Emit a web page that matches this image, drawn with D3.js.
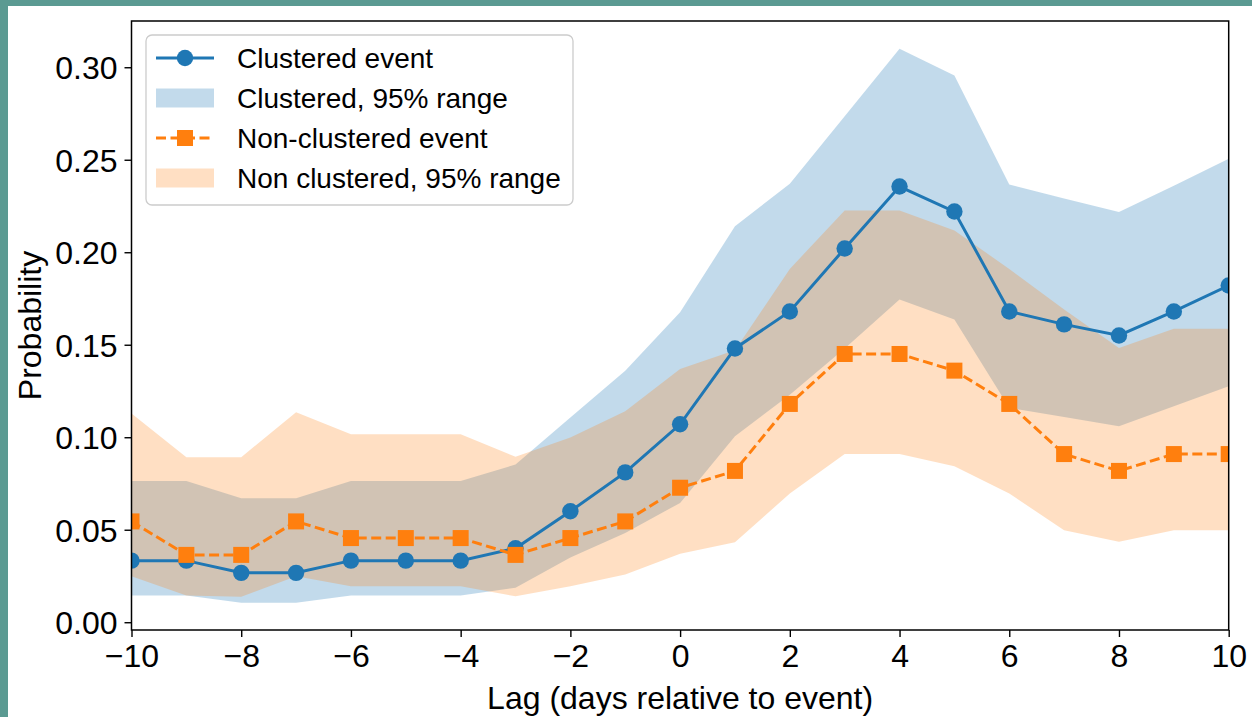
<!doctype html>
<html>
  <head>
    <meta charset="utf-8">
    <title>Lag probability</title>
    <script src="https://d3js.org/d3.v7.min.js"></script>
    <style type="text/css">
      body {
        margin: 0;
        background-color: #5b9a92;
      }
      svg text {
        font-family: "Liberation Sans", Arial, sans-serif;
        fill: #000000;
      }
    </style>
  </head>
  <body>
    <script>
      // data
      var lags = [-10, -9, -8, -7, -6, -5, -4, -3, -2, -1, 0, 1, 2, 3, 4, 5, 6, 7, 8, 9, 10];
      var clustered = [0.0333, 0.0333, 0.0267, 0.0267, 0.0333, 0.0333, 0.0333, 0.040, 0.060, 0.081, 0.107, 0.148, 0.168, 0.202, 0.2355, 0.222, 0.168, 0.161, 0.155, 0.168, 0.182];
      var clusteredLo = [0.0144, 0.0144, 0.0105, 0.0105, 0.0144, 0.0144, 0.0144, 0.0187, 0.035, 0.0483, 0.0645, 0.1005, 0.123, 0.148, 0.1744, 0.1636, 0.1159, 0.111, 0.106, 0.1168, 0.1276];
      var clusteredHi = [0.0764, 0.0764, 0.067, 0.067, 0.0764, 0.0764, 0.0764, 0.0852, 0.1107, 0.136, 0.1676, 0.214, 0.237, 0.2735, 0.310, 0.2955, 0.2366, 0.229, 0.2218, 0.236, 0.2505];
      var nonClustered = [0.0545, 0.0364, 0.0364, 0.0545, 0.0455, 0.0455, 0.0455, 0.0364, 0.0455, 0.0545, 0.0727, 0.0818, 0.118, 0.145, 0.145, 0.136, 0.118, 0.0909, 0.0818, 0.0909, 0.0909];
      var nonLo = [0.0249, 0.0144, 0.0138, 0.0249, 0.0195, 0.0195, 0.0195, 0.014, 0.0195, 0.0258, 0.037, 0.0432, 0.0696, 0.091, 0.091, 0.0843, 0.0696, 0.0497, 0.0435, 0.0497, 0.0497];
      var nonHi = [0.1128, 0.0892, 0.0892, 0.1135, 0.1016, 0.1016, 0.1016, 0.0894, 0.0998, 0.114, 0.1369, 0.147, 0.191, 0.2225, 0.2225, 0.2117, 0.191, 0.169, 0.1483, 0.1586, 0.1586];
      var xTicks = [-10, -8, -6, -4, -2, 0, 2, 4, 6, 8, 10];
      var yTicks = [0.00, 0.05, 0.10, 0.15, 0.20, 0.25, 0.30];
      var legendLabels = ["Clustered event", "Clustered, 95% range", "Non-clustered event", "Non clustered, 95% range"];

      var blue = "#1f77b4", orange = "#ff7f0e";
      var lw = 3, dotR = 8.2, sq = 16, dash = "10,4.5";

      //Width and height
      var w = 1252, h = 717;
      var plotL = 131.5, plotR = 1228.7, plotT = 21, plotB = 630;

      var svg = d3.select("body")
        .append("svg")
        .attr("width", w)
        .attr("height", h)
        .style("display", "block");

      // white page inside the teal border
      svg.append("rect")
        .attr("x", 8).attr("y", 6)
        .attr("width", w - 8).attr("height", h - 6)
        .attr("fill", "#ffffff");

      var x = d3.scaleLinear().domain([-10, 10]).range([plotL, plotR]);
      var y = d3.scaleLinear().domain([-0.0042, 0.3250]).range([plotB, plotT]);

      var rows = lags.map(function(d, i) {
        return {lag: d, c: clustered[i], cLo: clusteredLo[i], cHi: clusteredHi[i],
                n: nonClustered[i], nLo: nonLo[i], nHi: nonHi[i]};
      });

      // bands
      var bandC = d3.area().x(function(d) { return x(d.lag); })
        .y0(function(d) { return y(d.cLo); }).y1(function(d) { return y(d.cHi); });
      var bandN = d3.area().x(function(d) { return x(d.lag); })
        .y0(function(d) { return y(d.nLo); }).y1(function(d) { return y(d.nHi); });

      svg.append("path").datum(rows).attr("d", bandC)
        .attr("fill", blue).attr("fill-opacity", 0.27);
      svg.append("path").datum(rows).attr("d", bandN)
        .attr("fill", orange).attr("fill-opacity", 0.25);

      // clipped lines + markers
      svg.append("clipPath").attr("id", "plotclip")
        .append("rect").attr("x", plotL).attr("y", plotT)
        .attr("width", plotR - plotL).attr("height", plotB - plotT);
      var plot = svg.append("g").attr("clip-path", "url(#plotclip)");

      var lineC = d3.line().x(function(d) { return x(d.lag); }).y(function(d) { return y(d.c); });
      var lineN = d3.line().x(function(d) { return x(d.lag); }).y(function(d) { return y(d.n); });

      plot.append("path").datum(rows).attr("d", lineC)
        .attr("fill", "none").attr("stroke", blue).attr("stroke-width", lw);
      plot.selectAll("circle.c").data(rows).enter().append("circle")
        .attr("cx", function(d) { return x(d.lag); })
        .attr("cy", function(d) { return y(d.c); })
        .attr("r", dotR).attr("fill", blue);

      plot.append("path").datum(rows).attr("d", lineN)
        .attr("fill", "none").attr("stroke", orange).attr("stroke-width", lw)
        .attr("stroke-dasharray", dash);
      plot.selectAll("rect.n").data(rows).enter().append("rect")
        .attr("x", function(d) { return x(d.lag) - sq / 2; })
        .attr("y", function(d) { return y(d.n) - sq / 2; })
        .attr("width", sq).attr("height", sq).attr("fill", orange);

      // axes
      var xAxis = svg.append("g")
        .attr("transform", "translate(0," + plotB + ")")
        .call(d3.axisBottom(x).tickValues(xTicks).tickSize(7).tickPadding(7));
      var yAxis = svg.append("g")
        .attr("transform", "translate(" + plotL + ",0)")
        .call(d3.axisLeft(y).tickValues(yTicks).tickFormat(d3.format(".2f")).tickSize(7).tickPadding(7));

      [xAxis, yAxis].forEach(function(a) {
        a.select(".domain").remove();
        a.selectAll(".tick line").attr("stroke", "#000").attr("stroke-width", 1.4);
        a.selectAll(".tick text").attr("font-size", 32).attr("fill", "#000")
          .attr("font-family", "Liberation Sans, Arial, sans-serif");
      });
      yAxis.selectAll(".tick text").attr("dy", "0.36em");

      // frame
      svg.append("rect")
        .attr("x", plotL).attr("y", plotT)
        .attr("width", plotR - plotL).attr("height", plotB - plotT)
        .attr("fill", "none").attr("stroke", "#000").attr("stroke-width", 1.5);

      // axis labels
      svg.append("text")
        .attr("x", (plotL + plotR) / 2).attr("y", 709)
        .attr("text-anchor", "middle").attr("font-size", 32)
        .text("Lag (days relative to event)");
      svg.append("text")
        .attr("transform", "translate(41," + ((plotT + plotB) / 2) + ") rotate(-90)")
        .attr("text-anchor", "middle").attr("font-size", 32)
        .text("Probability");

      // legend
      var lg = svg.append("g");
      lg.append("rect")
        .attr("x", 146).attr("y", 35).attr("width", 427).attr("height", 170)
        .attr("rx", 6).attr("ry", 6)
        .attr("fill", "#ffffff").attr("fill-opacity", 0.8)
        .attr("stroke", "#cccccc").attr("stroke-width", 1.3);

      var rowY = d3.scalePoint().domain(legendLabels).range([58, 178]);

      legendLabels.forEach(function(lab, i) {
        var yy = rowY(lab);
        if (i === 0) {
          lg.append("line").attr("x1", 156).attr("x2", 214).attr("y1", yy).attr("y2", yy)
            .attr("stroke", blue).attr("stroke-width", lw);
          lg.append("circle").attr("cx", 185).attr("cy", yy).attr("r", dotR).attr("fill", blue);
        } else if (i === 2) {
          lg.append("line").attr("x1", 156).attr("x2", 214).attr("y1", yy).attr("y2", yy)
            .attr("stroke", orange).attr("stroke-width", lw).attr("stroke-dasharray", dash);
          lg.append("rect").attr("x", 185 - sq / 2).attr("y", yy - sq / 2).attr("width", sq).attr("height", sq)
            .attr("fill", orange);
        } else {
          lg.append("rect").attr("x", 156).attr("y", yy - 9.5).attr("width", 58).attr("height", 19)
            .attr("fill", i === 1 ? blue : orange).attr("fill-opacity", i === 1 ? 0.27 : 0.25);
        }
        lg.append("text").attr("x", 237).attr("y", yy).attr("dy", "0.36em")
          .attr("font-size", 28).text(lab);
      });
    </script>
  </body>
</html>
